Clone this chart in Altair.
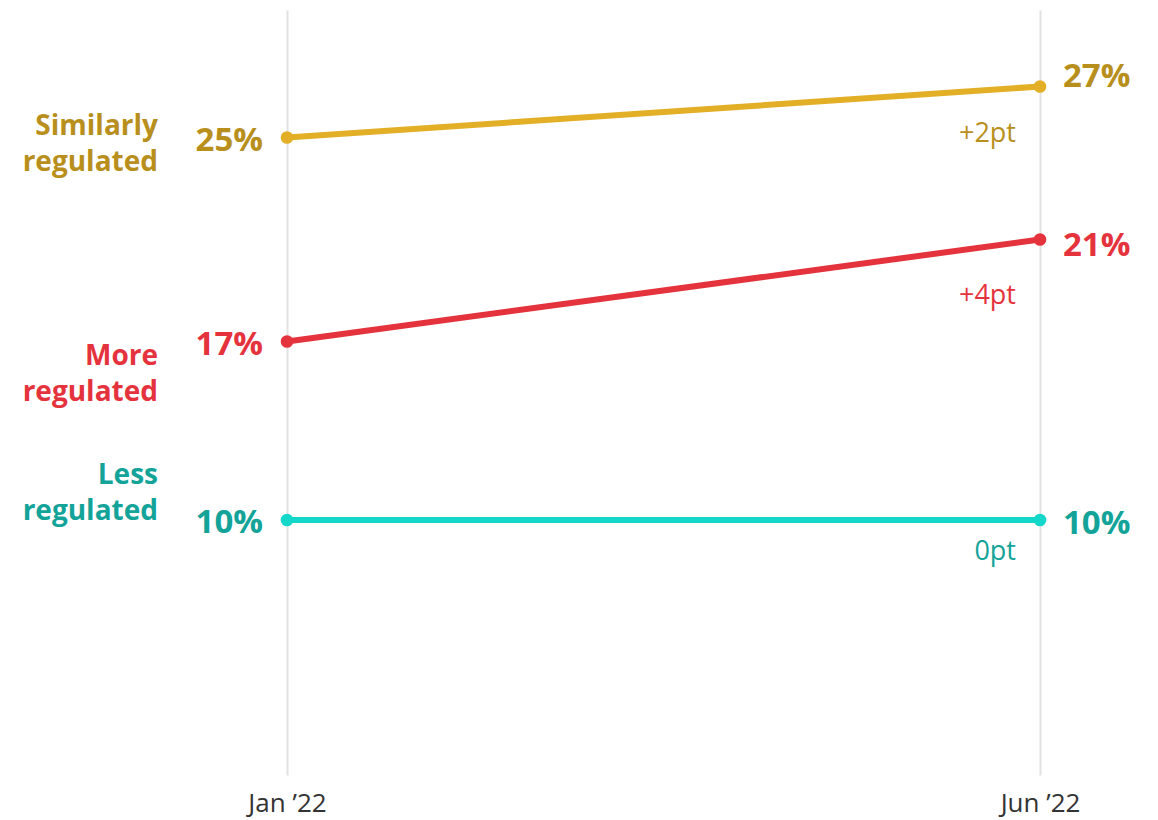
import altair as alt
import pandas as pd

periods = ["Jan ’22", "Jun ’22"]
series = ["Similarly regulated", "More regulated", "Less regulated"]
label_text = ["Similarly\nregulated", "More\nregulated", "Less\nregulated"]
jan_values = [25, 17, 10]
jun_values = [27, 21, 10]
line_colors = ["#E3AF27", "#E5333D", "#12D7C9"]
text_colors = ["#B88F1C", "#E5333D", "#13A399"]

# per-series text nudges (style)
label_dy = [-11, 15, -44]
right_dy = [-10, 6, 4]
change_dy = [47, 56, 32]

FONT = "Open Sans"

rows = []
for i, s in enumerate(series):
    for p, v in zip(periods, [jan_values[i], jun_values[i]]):
        rows.append({"series": s, "period": p, "value": v,
                     "pct": f"{v}%", "lcolor": line_colors[i], "tcolor": text_colors[i]})
df = pd.DataFrame(rows)

x_enc = alt.X("period:O", sort=periods,
              scale=alt.Scale(type="point", padding=0),
              axis=alt.Axis(title=None, domain=False, ticks=False, tickSize=0,
                            grid=True, gridColor="#E2E2E2", gridWidth=2,
                            labelAngle=0, labelFontSize=26, labelFont=FONT,
                            labelColor="#333333", labelPadding=15))
y_enc = alt.Y("value:Q", scale=alt.Scale(domain=[0, 30]), axis=None)

base = alt.Chart(df).encode(x=x_enc, y=y_enc)

lines = base.mark_line(strokeWidth=6).encode(
    detail="series:N", color=alt.Color("lcolor:N", scale=None))
points = base.mark_circle(size=160, opacity=1).encode(
    color=alt.Color("lcolor:N", scale=None))

left_pct = base.transform_filter(alt.datum.period == periods[0]).mark_text(
    align="right", baseline="middle", dx=-24, dy=3, fontSize=33, fontWeight="bold", font=FONT
).encode(text="pct:N", color=alt.Color("tcolor:N", scale=None))

layers = [lines, points, left_pct]

for i, s in enumerate(series):
    ch = jun_values[i] - jan_values[i]
    ch_txt = f"+{ch}pt" if ch > 0 else f"{ch}pt"
    sub = pd.DataFrame({"period": [periods[1]], "value": [jun_values[i]],
                        "t": [ch_txt], "pct": [f"{jun_values[i]}%"]})
    layers.append(alt.Chart(sub).mark_text(
        align="right", baseline="middle", dx=-24, dy=change_dy[i],
        fontSize=27, font=FONT, color=text_colors[i]
    ).encode(x=x_enc, y=y_enc, text="t:N"))
    layers.append(alt.Chart(sub).mark_text(
        align="left", baseline="middle", dx=23, dy=right_dy[i],
        fontSize=33, fontWeight="bold", font=FONT, color=text_colors[i]
    ).encode(x=x_enc, y=y_enc, text="pct:N"))
    sub2 = pd.DataFrame({"period": [periods[0]], "value": [jan_values[i]], "t": [label_text[i]]})
    layers.append(alt.Chart(sub2).mark_text(
        align="right", baseline="middle", dx=-129, dy=label_dy[i], lineBreak="\n", lineHeight=36,
        fontSize=28, fontWeight="bold", font=FONT, color=text_colors[i]
    ).encode(x=x_enc, y=y_enc, text="t:N"))

chart = alt.layer(*layers).properties(
    width=753, height=765, autosize="none",
    padding={"left": 279, "top": 2, "right": 110, "bottom": 44},
).configure(background="white").configure_view(stroke=None, strokeWidth=0)

chart.save("out.html", embed_options={"renderer": "svg", "actions": False})
